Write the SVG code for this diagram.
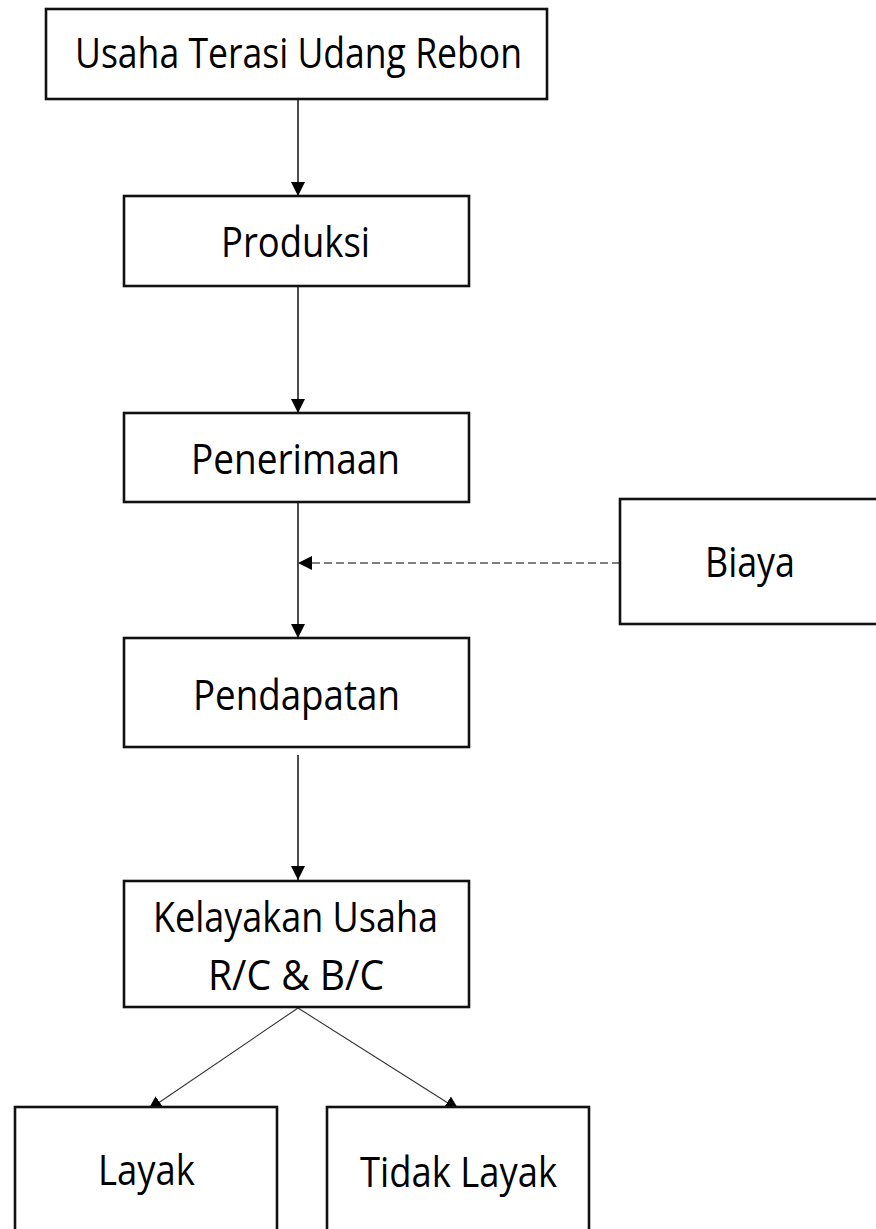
<svg xmlns="http://www.w3.org/2000/svg" width="876" height="1229" viewBox="0 0 876 1229">
  <style>
    .box { fill: #ffffff; stroke: #111111; stroke-width: 2.6; }
    .lbl { font-family: "Open Sans", "Noto Sans", "Liberation Sans", sans-serif; font-size: 42px; fill: #000000; }
    .conn { stroke: #000000; stroke-width: 1.4; fill: none; }
    .diag { stroke: #333333; stroke-width: 1.1; fill: none; }
    .dash { stroke: #555555; stroke-width: 1.4; fill: none; stroke-dasharray: 8 4; }
  </style>
  <defs>
    <marker id="arrow" markerUnits="userSpaceOnUse" markerWidth="14" markerHeight="14" refX="14" refY="7" orient="auto">
      <path d="M0,0 L14,7 L0,14 z" fill="#000000"/>
    </marker>
  </defs>
  <rect width="876" height="1229" fill="#ffffff"/>

  <g id="connectors">
    <line class="conn" x1="298" y1="100" x2="298" y2="196" marker-end="url(#arrow)"/>
    <line class="conn" x1="298" y1="286" x2="298" y2="413" marker-end="url(#arrow)"/>
    <line class="conn" x1="298" y1="502" x2="298" y2="638" marker-end="url(#arrow)"/>
    <line class="dash" x1="620" y1="563" x2="298" y2="563" marker-end="url(#arrow)"/>
    <line class="conn" x1="298" y1="755" x2="298" y2="880" marker-end="url(#arrow)"/>
    <line class="diag" x1="298" y1="1008" x2="148" y2="1110" marker-end="url(#arrow)"/>
    <line class="diag" x1="298" y1="1008" x2="459" y2="1110" marker-end="url(#arrow)"/>
  </g>

  <g id="node-usaha">
    <rect class="box" x="46" y="9" width="501" height="90"/>
    <text class="lbl" x="75" y="68" textLength="447" lengthAdjust="spacingAndGlyphs">Usaha Terasi Udang Rebon</text>
  </g>
  <g id="node-produksi">
    <rect class="box" x="124" y="196" width="345" height="90"/>
    <text class="lbl" x="221" y="257" textLength="149" lengthAdjust="spacingAndGlyphs">Produksi</text>
  </g>
  <g id="node-penerimaan">
    <rect class="box" x="124" y="413" width="345" height="89"/>
    <text class="lbl" x="191" y="474" textLength="209" lengthAdjust="spacingAndGlyphs">Penerimaan</text>
  </g>
  <g id="node-biaya">
    <rect class="box" x="620" y="499" width="262" height="125"/>
    <text class="lbl" x="705" y="577" textLength="90" lengthAdjust="spacingAndGlyphs">Biaya</text>
  </g>
  <g id="node-pendapatan">
    <rect class="box" x="124" y="638" width="345" height="109"/>
    <text class="lbl" x="193" y="710" textLength="207" lengthAdjust="spacingAndGlyphs">Pendapatan</text>
  </g>
  <g id="node-kelayakan">
    <rect class="box" x="124" y="881" width="345" height="126"/>
    <text class="lbl" x="153" y="932" textLength="285" lengthAdjust="spacingAndGlyphs">Kelayakan Usaha</text>
    <text class="lbl" x="208" y="990" textLength="176" lengthAdjust="spacingAndGlyphs">R/C &amp; B/C</text>
  </g>
  <g id="node-layak">
    <rect class="box" x="15" y="1107" width="262" height="140"/>
    <text class="lbl" x="98" y="1185" textLength="97" lengthAdjust="spacingAndGlyphs">Layak</text>
  </g>
  <g id="node-tidak-layak">
    <rect class="box" x="327" y="1107" width="262" height="140"/>
    <text class="lbl" x="360" y="1187" textLength="197" lengthAdjust="spacingAndGlyphs">Tidak Layak</text>
  </g>
</svg>
